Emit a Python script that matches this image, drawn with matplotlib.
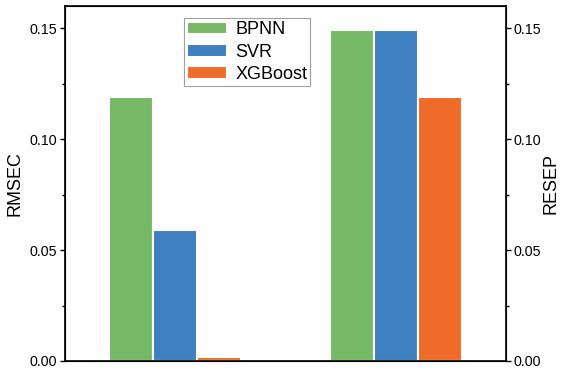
import matplotlib
matplotlib.use("Agg")
import matplotlib.pyplot as plt
from matplotlib.ticker import MultipleLocator
import numpy as np

plt.rcParams['font.family'] = ['Liberation Sans', 'DejaVu Sans']

# Error metrics per model: calibration set (RMSEC) and prediction set (RESEP)
models = ["BPNN", "SVR", "XGBoost"]
rmsec = [0.119, 0.059, 0.002]
resep = [0.149, 0.149, 0.119]
colors = ["#75B865", "#3F80C0", "#F06C2B"]

fig = plt.figure(figsize=(5.64, 3.73), dpi=100)
ax = fig.add_axes([65 / 564, 1 - 361 / 373, 441 / 564, 355 / 373])

group_x = np.array([0.0, 1.0])
width = 0.2
for i, (name, c) in enumerate(zip(models, colors)):
    offset = (i - 1) * width
    ax.bar(group_x + offset, [rmsec[i], resep[i]], width=width, color=c,
           edgecolor="white", linewidth=1.5, label=name)


def style_y(a):
    a.set_ylim(0, 0.16)
    a.yaxis.set_major_locator(MultipleLocator(0.05))
    a.yaxis.set_minor_locator(MultipleLocator(0.025))
    a.yaxis.set_major_formatter(plt.FormatStrFormatter("%.2f"))
    a.tick_params(axis="y", which="major", direction="out", length=3.5, width=1,
                  labelsize=10.3, pad=2)
    a.tick_params(axis="y", which="minor", direction="out", length=2.2, width=1)


ax.set_xlim(-0.5, 1.5)
ax.set_xticks([])
style_y(ax)
for s in ax.spines.values():
    s.set_linewidth(1.2)
ax.set_ylabel("RMSEC", fontsize=13)
ax.yaxis.label.set_va("center")
ax.yaxis.set_label_coords(-0.113, 0.5)

ax2 = ax.twinx()
style_y(ax2)
ax2.set_ylabel("RESEP", fontsize=13)
ax2.yaxis.label.set_va("center")
ax2.yaxis.set_label_coords(1.102, 0.5)

leg = ax.legend(loc="upper left", bbox_to_anchor=(0.27, 0.966), fontsize=13,
                frameon=True, fancybox=False, handlelength=2.2, handleheight=0.72,
                borderpad=0.18, labelspacing=0.3, handletextpad=0.45,
                borderaxespad=0)
leg.get_frame().set_edgecolor("#888888")
leg.get_frame().set_linewidth(0.8)

fig.savefig("out.png", dpi=100)
